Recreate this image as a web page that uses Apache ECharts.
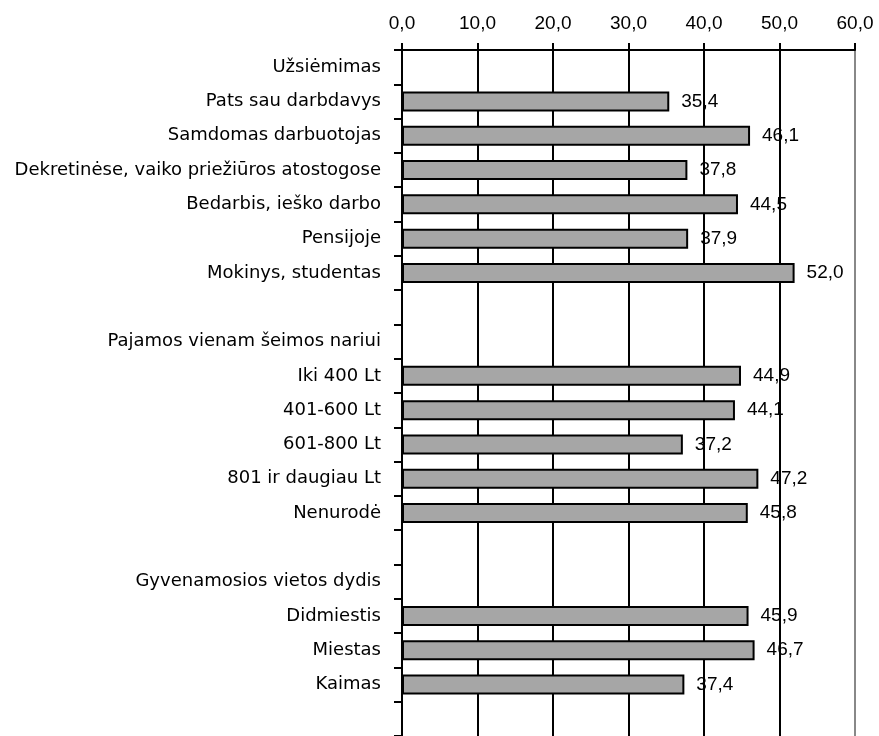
<!DOCTYPE html>
<html>
<head>
<meta charset="utf-8">
<script src="https://cdn.jsdelivr.net/npm/echarts@6/dist/echarts.min.js"></script>
<style>
  html, body { margin: 0; padding: 0; background: #fff; }
  #chart { width: 879px; height: 736px; }
</style>
</head>
<body>
<div id="chart"></div>
<script>
// rows from top to bottom; headers and spacer rows have no value
const categories = [
  "Užsiėmimas",
  "Pats sau darbdavys",
  "Samdomas darbuotojas",
  "Dekretinėse, vaiko priežiūros atostogose",
  "Bedarbis, ieško darbo",
  "Pensijoje",
  "Mokinys, studentas",
  "",
  "Pajamos vienam šeimos nariui",
  "Iki 400 Lt",
  "401-600 Lt",
  "601-800 Lt",
  "801 ir daugiau Lt",
  "Nenurodė",
  " ",
  "Gyvenamosios vietos dydis",
  "Didmiestis",
  "Miestas",
  "Kaimas",
  "  "
];
const values = [
  null, 35.4, 46.1, 37.8, 44.5, 37.9, 52.0,
  null,
  null, 44.9, 44.1, 37.2, 47.2, 45.8,
  null,
  null, 45.9, 46.7, 37.4,
  null
];
const xTicks = [0, 10, 20, 30, 40, 50, 60];

const fmt = v => Number(v).toFixed(1).replace(".", ",");
const numFont = "Liberation Sans, Arial, sans-serif";
const catFont = "DejaVu Sans, sans-serif";

const chart = echarts.init(document.getElementById("chart"));
chart.setOption({
  backgroundColor: "#fff",
  animation: false,
  grid: { left: 402, right: 24, top: 50, bottom: -4, containLabel: false },
  xAxis: {
    type: "value",
    position: "top",
    min: xTicks[0],
    max: xTicks[xTicks.length - 1],
    interval: 10,
    axisLine: { show: true, lineStyle: { color: "#000", width: 2 } },
    axisTick: { show: true, length: 7, lineStyle: { color: "#000", width: 2 } },
    axisLabel: { formatter: fmt, color: "#000", fontSize: 19, fontFamily: numFont, margin: 17 },
    splitLine: {
      show: true,
      lineStyle: { color: ["#000", "#000", "#000", "#000", "#000", "#000", "#888"], width: 2 }
    }
  },
  yAxis: {
    type: "category",
    inverse: true,
    data: categories,
    axisLine: { show: true, lineStyle: { color: "#000", width: 2 } },
    axisTick: { show: true, length: 8, lineStyle: { color: "#000", width: 2 } },
    axisLabel: { color: "#000", fontSize: 18, fontFamily: catFont, margin: 21, interval: 0 },
    splitLine: { show: false }
  },
  series: [
    {
      type: "bar",
      data: values,
      barWidth: 20,
      itemStyle: { color: "#a6a6a6", borderColor: "#000", borderWidth: 2 },
      label: {
        show: true,
        position: "right",
        distance: 12,
        formatter: p => fmt(p.value),
        color: "#000",
        fontSize: 19,
        fontFamily: numFont
      }
    }
  ]
});
</script>
</body>
</html>
